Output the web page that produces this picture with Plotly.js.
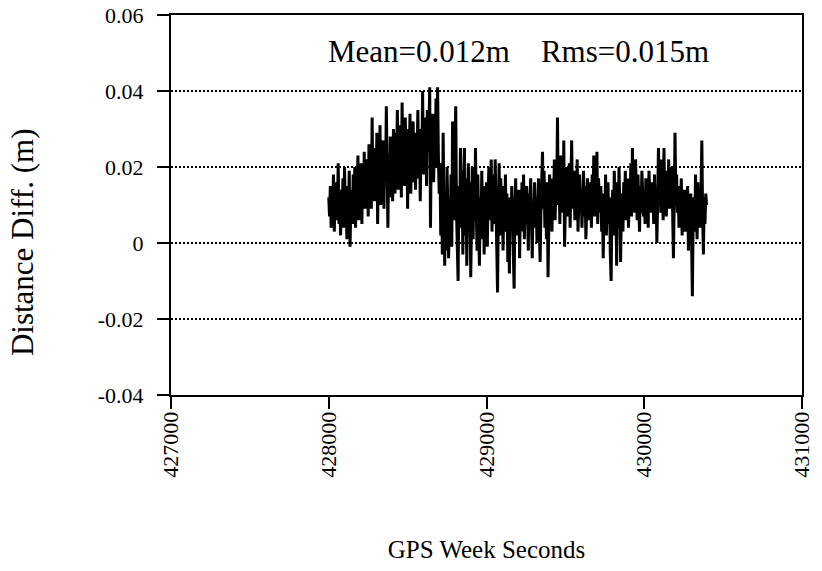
<!DOCTYPE html>
<html>
<head>
<meta charset="utf-8">
<script src="https://cdn.plot.ly/plotly-3.0.1.min.js"></script>
<style>
  html, body { margin: 0; padding: 0; background: #fff; }
  #chart { width: 822px; height: 571px; }
</style>
</head>
<body>
<div id="chart"></div>
<script>
// Baseline distance difference, one epoch every 5 s starting at 428000 s
const startSecond = 428000;
const epochInterval = 5;

const distanceDiff = [
  0.012, 0.007, 0.015, 0.004, 0.013, 0.009, 0.018, 0.003, 0.011, 0.006, 0.016, 0.010, 0.021, 0.005, 0.014,
  0.002, 0.012, 0.008, 0.017, 0.004, 0.020, 0.009, 0.013, 0.001, 0.015, 0.006, 0.019, -0.001, 0.010, 0.014,
  0.005, 0.018, 0.008, 0.020, 0.004, 0.015, 0.011, 0.023, 0.006, 0.017, 0.013, 0.021, 0.005, 0.019, 0.010,
  0.024, 0.009, 0.016, 0.012, 0.022, 0.007, 0.026, 0.011, 0.018, 0.009, 0.033, 0.014, 0.020, 0.011, 0.025,
  0.016, 0.029, 0.005, 0.022, 0.014, 0.031, 0.010, 0.024, 0.018, 0.027, 0.009, 0.026, 0.016, 0.036, 0.020,
  0.004, 0.023, 0.012, 0.028, 0.017, 0.025, 0.011, 0.030, 0.019, 0.013, 0.029, 0.022, 0.035, 0.014, 0.027,
  0.018, 0.031, 0.012, 0.037, 0.020, 0.028, 0.015, 0.033, 0.022, 0.026, 0.009, 0.030, 0.019, 0.034, 0.013,
  0.025, 0.021, 0.032, 0.016, 0.029, 0.014, 0.027, 0.023, 0.035, 0.017, 0.030, 0.011, 0.024, 0.020, 0.040,
  0.018, 0.033, 0.022, 0.029, 0.015, 0.035, 0.024, 0.030, 0.041, 0.004, 0.027, 0.019, 0.034, 0.016, 0.031,
  0.025, 0.038, 0.020, 0.041, 0.023,
  0.013, 0.021, 0.002, 0.017, -0.003, 0.029, 0.001, -0.006, 0.012, -0.002, 0.020, 0.003, -0.004, 0.010, 0.002,
  0.018, -0.001, 0.032, 0.014, 0.006,
  0.024, 0.036, 0.008, -0.002, -0.010, 0.015, 0.004, 0.025, 0.010, 0.019, -0.003, 0.013, 0.025, 0.002, 0.017,
  -0.006, 0.011, 0.021, 0.005, 0.016, -0.009, 0.009, 0.020, 0.001, 0.014, 0.006, 0.025, 0.010, -0.002, 0.018,
  0.004, -0.006, 0.012, 0.001, 0.019, 0.007, 0.015, -0.003, 0.010, 0.004, 0.016, -0.001, 0.012, 0.020, 0.006,
  0.009, 0.022, 0.003, 0.014, 0.018, 0.005, 0.022, 0.011, -0.004, -0.013, 0.008, 0.021, 0.002, 0.017, 0.009,
  0.015, -0.002, 0.011, 0.006, 0.018, 0.003, 0.013, -0.005, 0.010, -0.008,
  0.012, 0.004, 0.015, 0.007, -0.003, -0.012, 0.009, 0.017, 0.002, 0.013, 0.006, 0.014, -0.004, 0.010, 0.003,
  0.016, 0.008, 0.018, 0.001, 0.012, 0.005, 0.015, 0.009, -0.002, 0.013, 0.007, 0.017, 0.002, -0.004, 0.011,
  0.006, 0.016, 0.004, 0.012, 0.000, 0.010, 0.017, 0.003, -0.005, 0.008,
  0.014, 0.024, 0.009, 0.019, 0.004, 0.013, 0.001, 0.016, -0.009, 0.010, 0.018, 0.005, 0.012, 0.003, 0.017,
  0.008, 0.022, 0.006, 0.015, 0.012, 0.033, 0.010, 0.019, 0.005, 0.023, 0.013, 0.017, 0.008, 0.027, -0.001,
  0.012, 0.020, 0.007, 0.015, 0.011, 0.021, 0.004, 0.017, 0.027, 0.009, 0.014, 0.019, 0.006, 0.016, 0.011,
  0.022, 0.003, 0.013, 0.018, 0.008,
  0.014, 0.004, 0.012, 0.019, 0.007, 0.015, 0.001, 0.011, 0.017, 0.006, 0.013, 0.009, 0.016, 0.004, 0.018,
  0.010, 0.023, 0.007, 0.014, 0.011, 0.024, 0.005, 0.017, 0.012, 0.008, 0.015, 0.003, 0.010, -0.004, 0.013,
  0.006, 0.018, 0.002, 0.011, 0.016, 0.005, 0.012, -0.003, -0.010, 0.009, 0.014, 0.002, 0.019, 0.007, 0.012,
  -0.006, 0.016, 0.004, 0.020, 0.010,
  -0.005, 0.008, 0.013, 0.003, 0.016, 0.009, 0.019, 0.006, 0.012, 0.017, 0.004, 0.014, 0.010, 0.021, 0.007,
  0.025, 0.011, 0.016, 0.008, 0.022, 0.013, 0.006, 0.018, 0.010, 0.003, 0.015, 0.008, 0.019, 0.011, 0.007,
  0.014, 0.005, 0.017, 0.009, 0.013, 0.004, 0.019, 0.012, 0.008, 0.016, 0.010, 0.014, 0.005, 0.018, 0.009,
  0.013, 0.000, 0.011, 0.025, 0.012,
  0.018, 0.008, 0.022, 0.013, 0.006, 0.025, 0.010, 0.019, 0.007, 0.016, 0.012, 0.022, 0.009, 0.017, 0.014,
  0.020, 0.005, -0.004, 0.011, 0.029, 0.013, 0.018, 0.008, 0.015, 0.004, 0.013, 0.010, 0.017, 0.002, 0.011,
  0.007, 0.014, 0.003, 0.012, 0.008, 0.015, -0.002, 0.009, 0.005, 0.013, 0.001, -0.014, 0.006, 0.012, 0.003,
  0.018, 0.009, 0.001, 0.016, 0.007, 0.011, 0.004, 0.014, 0.027, 0.008, -0.003, 0.012, 0.005, 0.013, 0.010
];

const weekSeconds = distanceDiff.map((_, i) => startSecond + i * epochInterval);

const xTickValues = [427000, 428000, 429000, 430000, 431000];
const xTickLabels = ["427000", "428000", "429000", "430000", "431000"];
const yTickValues = [-0.04, -0.02, 0, 0.02, 0.04, 0.06];
const yTickLabels = ["-0.04", "-0.02", "0", "0.02", "0.04", "0.06"];

const statsLabel = "Mean=0.012m&nbsp;&nbsp;&nbsp;&nbsp;Rms=0.015m";
const yTitle = "Distance Diff. (m)";
const xTitle = "GPS Week Seconds";

const serif = "Liberation Serif, Times New Roman, serif";

const trace = {
  x: weekSeconds,
  y: distanceDiff,
  type: "scatter",
  mode: "lines",
  line: { color: "#000", width: 3 },
  hoverinfo: "x+y"
};

const layout = {
  width: 822,
  height: 571,
  margin: { l: 171, r: 20, t: 15, b: 176 },
  paper_bgcolor: "#fff",
  plot_bgcolor: "#fff",
  showlegend: false,
  font: { family: serif, color: "#000", size: 22 },
  xaxis: {
    range: [427000, 431000],
    tickvals: xTickValues,
    ticktext: xTickLabels,
    tickangle: -90,
    ticks: "outside",
    ticklen: 12,
    tickwidth: 2,
    tickcolor: "#000",
    ticklabelstandoff: -6,
    showgrid: false,
    zeroline: false,
    showline: true,
    linecolor: "#000",
    linewidth: 2,
    mirror: true,
    tickfont: { family: serif, size: 22, color: "#000" },
    title: { text: xTitle, font: { family: serif, size: 25, color: "#000" }, standoff: 64 }
  },
  yaxis: {
    range: [-0.04, 0.06],
    tickvals: yTickValues,
    ticktext: yTickLabels,
    ticks: "outside",
    ticklen: 12,
    tickwidth: 2,
    tickcolor: "#000",
    ticklabelstandoff: 9,
    showgrid: true,
    gridcolor: "#000",
    gridwidth: 2,
    griddash: "2px,2px",
    zeroline: false,
    showline: true,
    linecolor: "#000",
    linewidth: 2,
    mirror: true,
    tickfont: { family: serif, size: 22, color: "#000" }
  },
  annotations: [
    {
      // y-axis title, set a little below the plot's vertical centre
      xref: "paper",
      yref: "paper",
      x: -0.236,
      y: 0.4026,
      xanchor: "center",
      yanchor: "middle",
      textangle: -90,
      showarrow: false,
      text: yTitle,
      font: { family: serif, size: 31, color: "#000" }
    },
    {
      xref: "paper",
      yref: "paper",
      x: 0.55,
      y: 0.905,
      xanchor: "center",
      yanchor: "middle",
      showarrow: false,
      text: statsLabel,
      font: { family: serif, size: 31, color: "#000" }
    }
  ]
};

Plotly.newPlot("chart", [trace], layout, { displayModeBar: false, staticPlot: true });
</script>
</body>
</html>
